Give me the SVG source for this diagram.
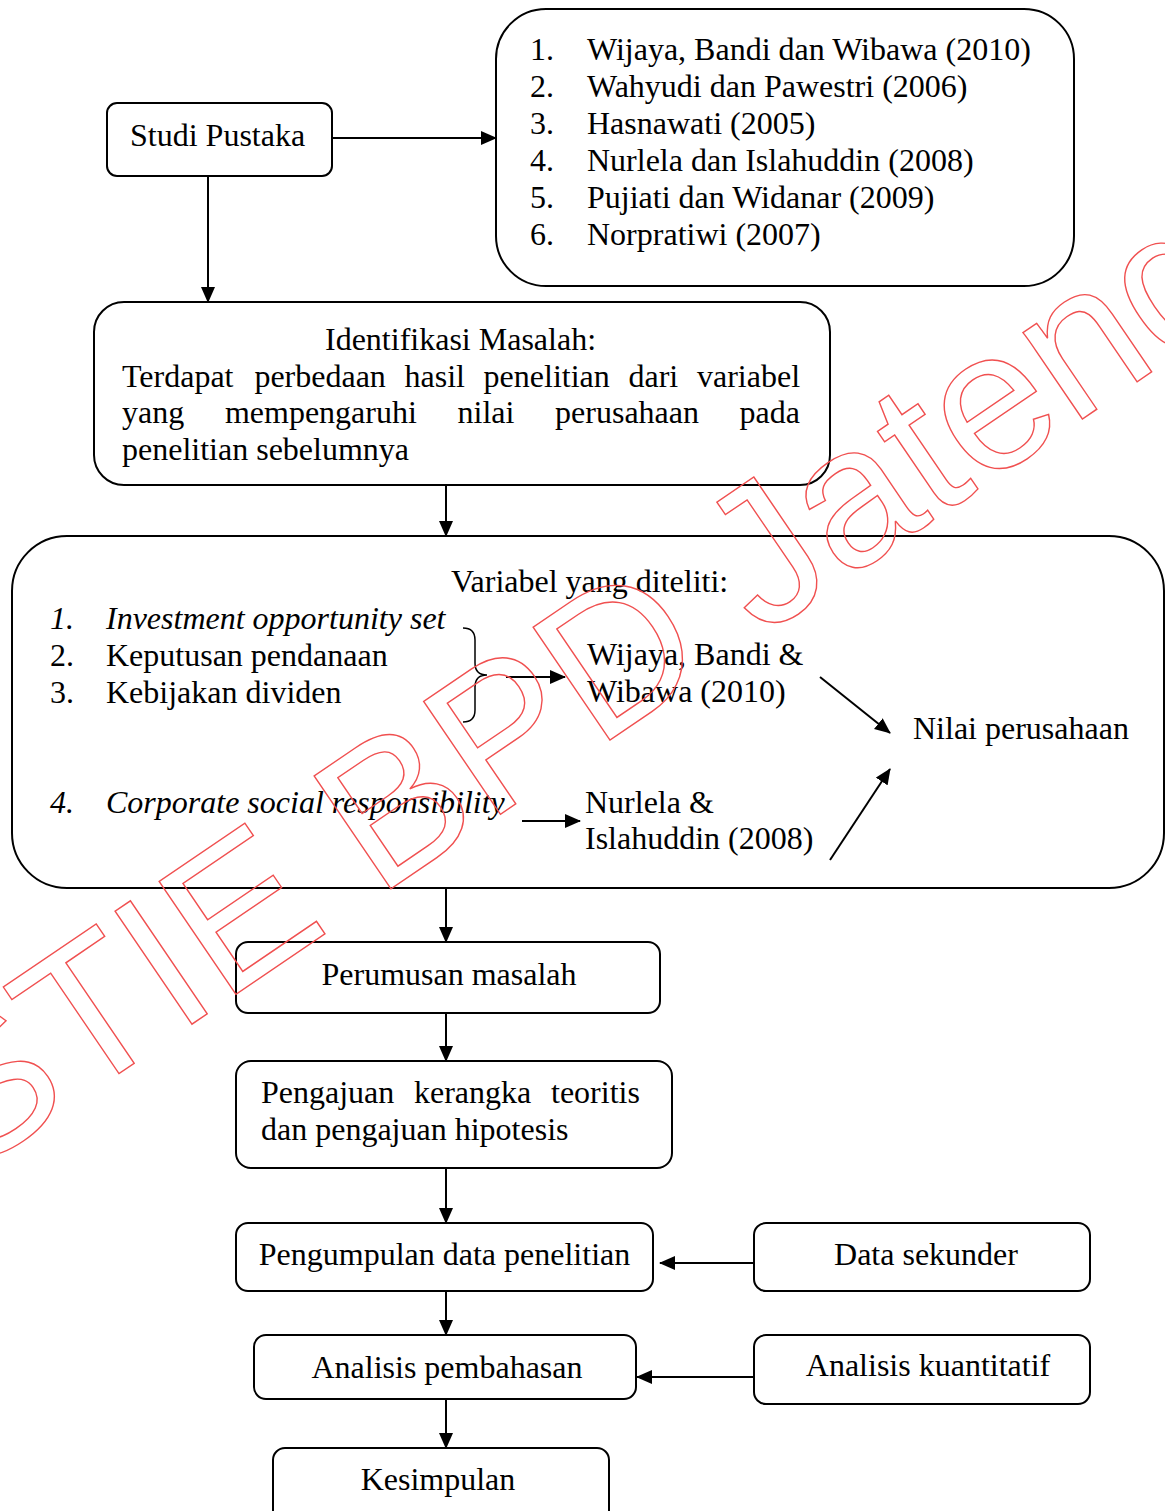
<svg xmlns="http://www.w3.org/2000/svg" width="1165" height="1511" viewBox="0 0 1165 1511">
<defs>
<marker id="ah" markerUnits="userSpaceOnUse" markerWidth="16" markerHeight="14" refX="15" refY="7" orient="auto">
<path d="M0,0 L16,7 L0,14 Z" fill="#000"/>
</marker>
<style>
.box{fill:#fff;stroke:#000;stroke-width:2}
.t{font-family:"Liberation Serif","Times New Roman",serif;font-size:32px;fill:#000}
.i{font-style:italic}
.c{text-anchor:middle}
.ln{stroke:#000;stroke-width:2;fill:none}
.wm{font-family:"Liberation Sans",Arial,sans-serif;font-size:198.5px;fill:none;stroke:#f05050;stroke-width:1.4}
</style>
</defs>
<rect width="1165" height="1511" fill="#fff"/>

<g id="studi-pustaka">
<rect class="box" x="107" y="103" width="225" height="73" rx="10"/>
<text class="t" x="130" y="146">Studi Pustaka</text>
</g>

<g id="daftar-penelitian">
<rect class="box" x="496" y="9" width="578" height="277" rx="50"/>
<text class="t" x="530" y="60">1.</text><text class="t" x="587" y="60">Wijaya, Bandi dan Wibawa (2010)</text>
<text class="t" x="530" y="97">2.</text><text class="t" x="587" y="97">Wahyudi dan Pawestri (2006)</text>
<text class="t" x="530" y="134">3.</text><text class="t" x="587" y="134">Hasnawati (2005)</text>
<text class="t" x="530" y="171">4.</text><text class="t" x="587" y="171">Nurlela dan Islahuddin (2008)</text>
<text class="t" x="530" y="208">5.</text><text class="t" x="587" y="208">Pujiati dan Widanar (2009)</text>
<text class="t" x="530" y="245">6.</text><text class="t" x="587" y="245">Norpratiwi (2007)</text>
</g>

<g id="identifikasi-masalah">
<rect class="box" x="94" y="302" width="736" height="183" rx="30"/>
<text class="t c" x="460.5" y="350">Identifikasi Masalah:</text>
<text class="t" y="387"><tspan x="122">Terdapat</tspan><tspan x="254.4">perbedaan</tspan><tspan x="404.5">hasil</tspan><tspan x="483.6">penelitian</tspan><tspan x="628.5">dari</tspan><tspan x="697">variabel</tspan></text>
<text class="t" y="423"><tspan x="122">yang</tspan><tspan x="224.9">mempengaruhi</tspan><tspan x="457.5">nilai</tspan><tspan x="555.1">perusahaan</tspan><tspan x="739.6">pada</tspan></text>
<text class="t" x="122" y="460">penelitian sebelumnya</text>
</g>

<g id="variabel-diteliti">
<rect class="box" x="12" y="536" width="1152" height="352" rx="55"/>
<text class="t" x="451" y="592">Variabel yang diteliti:</text>
<text class="t i" x="50" y="629">1.</text><text class="t i" x="106" y="629">Investment opportunity set</text>
<text class="t" x="50" y="666">2.</text><text class="t" x="106" y="666">Keputusan pendanaan</text>
<text class="t" x="50" y="703">3.</text><text class="t" x="106" y="703">Kebijakan dividen</text>
<text class="t i" x="50" y="813">4.</text><text class="t i" x="106" y="813">Corporate social responsibility</text>
<path class="ln" style="stroke-width:1.5" d="M463,628 Q475,628 475,640 L475,663 Q475,675 487,675 Q475,675 475,687 L475,710 Q475,722 463,722"/>
<text class="t" x="587" y="665">Wijaya, Bandi &amp;</text>
<text class="t" x="587" y="702">Wibawa (2010)</text>
<text class="t" x="585" y="813">Nurlela &amp;</text>
<text class="t" x="585" y="849">Islahuddin (2008)</text>
<text class="t" x="913" y="739">Nilai perusahaan</text>
</g>

<g id="perumusan-masalah">
<rect class="box" x="236" y="942" width="424" height="71" rx="12"/>
<text class="t c" x="449" y="985">Perumusan masalah</text>
</g>

<g id="pengajuan">
<rect class="box" x="236" y="1061" width="436" height="107" rx="15"/>
<text class="t" y="1103"><tspan x="261">Pengajuan</tspan><tspan x="414">kerangka</tspan><tspan x="551">teoritis</tspan></text>
<text class="t" x="261" y="1140">dan pengajuan hipotesis</text>
</g>

<g id="pengumpulan-data">
<rect class="box" x="236" y="1223" width="417" height="68" rx="12"/>
<text class="t c" x="444.5" y="1265">Pengumpulan data penelitian</text>
</g>

<g id="data-sekunder">
<rect class="box" x="754" y="1223" width="336" height="68" rx="12"/>
<text class="t c" x="926" y="1265">Data sekunder</text>
</g>

<g id="analisis-pembahasan">
<rect class="box" x="254" y="1335" width="382" height="64" rx="12"/>
<text class="t c" x="447" y="1378">Analisis pembahasan</text>
</g>

<g id="analisis-kuantitatif">
<rect class="box" x="754" y="1335" width="336" height="69" rx="12"/>
<text class="t c" x="928" y="1376">Analisis kuantitatif</text>
</g>

<g id="kesimpulan">
<rect class="box" x="273" y="1448" width="336" height="90" rx="12"/>
<text class="t c" x="438" y="1490">Kesimpulan</text>
</g>

<g id="connectors">
<line class="ln" x1="332" y1="138" x2="496" y2="138" marker-end="url(#ah)"/>
<line class="ln" x1="208" y1="176" x2="208" y2="302" marker-end="url(#ah)"/>
<line class="ln" x1="446" y1="485" x2="446" y2="536" marker-end="url(#ah)"/>
<line class="ln" x1="506" y1="677" x2="565" y2="677" marker-end="url(#ah)"/>
<line class="ln" x1="522" y1="821" x2="580" y2="821" marker-end="url(#ah)"/>
<line class="ln" x1="820" y1="677" x2="890" y2="733" marker-end="url(#ah)"/>
<line class="ln" x1="830" y1="860" x2="890" y2="769" marker-end="url(#ah)"/>
<line class="ln" x1="446" y1="888" x2="446" y2="942" marker-end="url(#ah)"/>
<line class="ln" x1="446" y1="1013" x2="446" y2="1061" marker-end="url(#ah)"/>
<line class="ln" x1="446" y1="1168" x2="446" y2="1223" marker-end="url(#ah)"/>
<line class="ln" x1="754" y1="1263" x2="660" y2="1263" marker-end="url(#ah)"/>
<line class="ln" x1="446" y1="1291" x2="446" y2="1335" marker-end="url(#ah)"/>
<line class="ln" x1="754" y1="1377" x2="637" y2="1377" marker-end="url(#ah)"/>
<line class="ln" x1="446" y1="1399" x2="446" y2="1448" marker-end="url(#ah)"/>
</g>

<g id="watermark">
<text class="wm" transform="translate(-33,1177) rotate(-34.2)">STIE BPD Jateng</text>
</g>
</svg>
